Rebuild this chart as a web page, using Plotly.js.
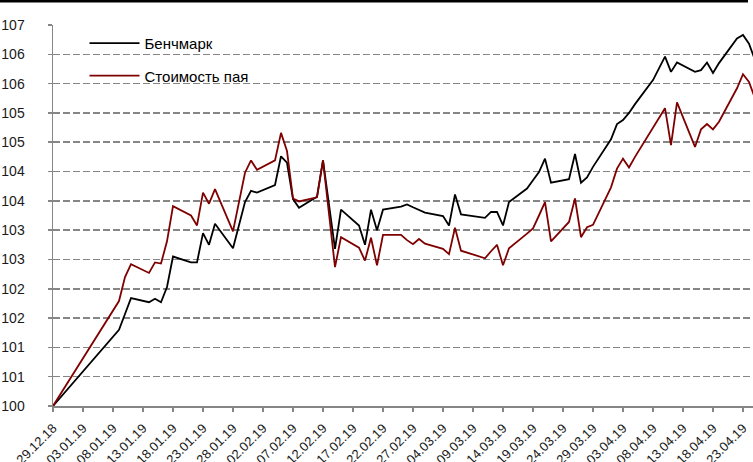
<!DOCTYPE html>
<html>
<head>
<meta charset="utf-8">
<script src="https://cdn.plot.ly/plotly-3.0.1.min.js"></script>
<style>html,body{margin:0;padding:0;background:#fff;}#chart{width:753px;height:462px;}</style>
</head>
<body>
<div id="chart"></div>
<script>
const dates = ["2018-12-29","2019-01-09","2019-01-10","2019-01-11","2019-01-14","2019-01-15","2019-01-16","2019-01-17","2019-01-18",
"2019-01-21","2019-01-22","2019-01-23","2019-01-24","2019-01-25","2019-01-28","2019-01-29","2019-01-30","2019-01-31","2019-02-01",
"2019-02-04","2019-02-05","2019-02-06","2019-02-07","2019-02-08","2019-02-11","2019-02-12","2019-02-13","2019-02-14","2019-02-15",
"2019-02-18","2019-02-19","2019-02-20","2019-02-21","2019-02-22","2019-02-25","2019-02-26","2019-02-27","2019-02-28","2019-03-01",
"2019-03-04","2019-03-05","2019-03-06","2019-03-07","2019-03-11","2019-03-12","2019-03-13","2019-03-14","2019-03-15",
"2019-03-18","2019-03-19","2019-03-20","2019-03-21","2019-03-22","2019-03-25","2019-03-26","2019-03-27","2019-03-28","2019-03-29",
"2019-04-01","2019-04-02","2019-04-03","2019-04-04","2019-04-05","2019-04-08","2019-04-09","2019-04-10","2019-04-11","2019-04-12",
"2019-04-15","2019-04-16","2019-04-17","2019-04-18","2019-04-19","2019-04-22","2019-04-23","2019-04-24","2019-04-25"];

const benchmark = [100,101.30,101.57,101.84,101.77,101.83,101.77,102.03,102.55,
102.45,102.45,102.95,102.75,103.11,102.69,103.08,103.48,103.67,103.64,
103.77,104.26,104.15,103.53,103.38,103.57,104.19,103.43,102.68,103.35,
103.08,102.75,103.35,103.00,103.35,103.40,103.44,103.39,103.34,103.30,
103.24,103.08,103.61,103.27,103.21,103.31,103.31,103.08,103.48,
103.71,103.85,103.99,104.22,103.81,103.87,104.30,103.81,103.90,104.08,
104.55,104.81,104.88,105.00,105.15,105.56,105.75,105.96,105.70,105.86,
105.70,105.73,105.86,105.68,105.85,106.27,106.33,106.18,105.90];

const fundValue = [100,101.79,102.20,102.42,102.27,102.45,102.43,102.81,103.41,
103.25,103.08,103.64,103.45,103.70,102.98,103.47,103.98,104.19,104.03,
104.19,104.66,104.35,103.54,103.49,103.56,104.19,103.28,102.37,102.88,
102.70,102.48,102.87,102.40,102.92,102.92,102.83,102.76,102.85,102.77,
102.68,102.59,103.04,102.65,102.52,102.64,102.75,102.40,102.69,
102.94,103.03,103.25,103.48,102.81,103.14,103.54,102.88,103.05,103.09,
103.73,104.05,104.22,104.07,104.25,104.75,104.92,105.08,104.45,105.18,
104.42,104.72,104.81,104.72,104.85,105.42,105.66,105.53,105.25];

const seriesNames = ["Бенчмарк", "Стоимость пая"];
const yTickVals = [100,100.5,101,101.5,102,102.5,103,103.5,104,104.5,105,105.5,106,106.5];
const yTickText = ["100","101","101","102","102","103","103","104","104","105","105","106","106","107"];

const traces = [
  {x: dates, y: benchmark, name: seriesNames[0], type: "scatter", mode: "lines",
   line: {color: "#000000", width: 1.8}, legendgroup: "a"},
  {x: dates, y: fundValue, name: seriesNames[1], type: "scatter", mode: "lines",
   line: {color: "#7f0000", width: 1.8}, legendgroup: "b"}
];

const fontFam = "Liberation Sans, Arial, sans-serif";
const layout = {
  width: 753, height: 462,
  margin: {l: 53, r: 0, t: 25, b: 56, pad: 0},
  paper_bgcolor: "#ffffff", plot_bgcolor: "#ffffff",
  font: {family: fontFam, size: 13, color: "#1a1a1a"},
  showlegend: true,
  legend: {x: 0.045, y: 0.995, xanchor: "left", yanchor: "top", bgcolor: "rgba(0,0,0,0)",
           font: {family: fontFam, size: 15, color: "#000"}, traceorder: "grouped",
           tracegroupgap: 10, itemwidth: 50},
  xaxis: {
    type: "date",
    range: ["2018-12-29", "2019-04-24 16:00"],
    tick0: "2018-12-29", dtick: 5 * 86400000,
    tickformat: "%d.%m.%y", tickangle: -45,
    ticks: "outside", ticklen: 4, tickcolor: "#868686", tickwidth: 1.5,
    showline: true, linecolor: "#868686", linewidth: 1.5,
    showgrid: false, zeroline: false,
    ticklabelstandoff: 4,
    tickfont: {family: fontFam, size: 13, color: "#1a1a1a"}
  },
  yaxis: {
    range: [100, 106.5],
    tickvals: yTickVals, ticktext: yTickText,
    ticks: "outside", ticklen: 4, tickcolor: "#868686", tickwidth: 1.5,
    showline: true, linecolor: "#868686", linewidth: 1.5,
    showgrid: true, gridcolor: "#868686", gridwidth: 1.5, griddash: "7px,3px",
    zeroline: false,
    ticklabelstandoff: 20,
    tickfont: {family: fontFam, size: 14, color: "#1a1a1a"}
  },
  shapes: [
    {type: "line", xref: "paper", yref: "paper", x0: -53/700, x1: (748-53)/700,
     y0: (406-1)/381, y1: (406-1)/381, line: {color: "#000", width: 3}}
  ]
};

Plotly.newPlot("chart", traces, layout, {displayModeBar: false, staticPlot: true});
</script>
</body>
</html>
